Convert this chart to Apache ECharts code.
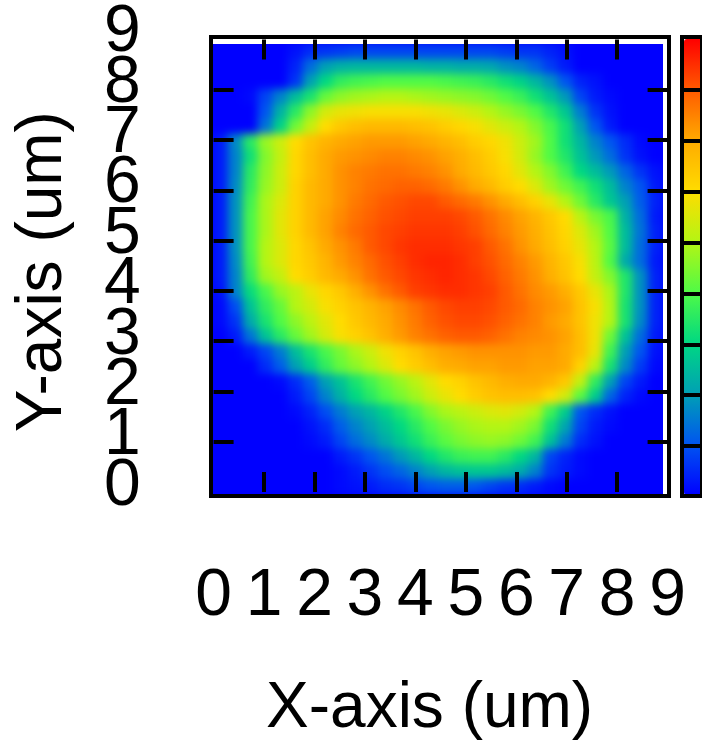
<!DOCTYPE html>
<html>
<head>
<meta charset="utf-8">
<title>Intensity map</title>
<script src="https://cdn.jsdelivr.net/npm/echarts@6/dist/echarts.min.js"></script>
<style>
  html, body { margin: 0; padding: 0; background: #fff; }
  #wrap { position: relative; width: 702px; height: 746px; }
  /* the map is shaded smoothly inside its plot box */
  #mapClip { position: absolute; left: 213px; top: 44px; width: 450px; height: 450px; overflow: hidden; }
  #map { position: absolute; left: -30px; top: -30px; width: 510px; height: 510px;
         background: #0000ff; filter: blur(4px); }
  #chart { position: absolute; left: 0; top: 0; width: 702px; height: 746px; }
</style>
</head>
<body>
<div id="wrap">
  <div id="mapClip"><div id="map"></div></div>
  <div id="chart"></div>
</div>
<script>
// Axis ticks and labels (um)
const xTickLabels = [0, 1, 2, 3, 4, 5, 6, 7, 8, 9];
const yLabelsEven = [0, 2, 4, 6, 8];
const yLabelsOdd = [1, 3, 5, 7, 9];
const innerTicks = [1, 2, 3, 4, 5, 6, 7, 8];

// Sample positions of the map cells (um)
const xCells = ['0.15','0.45','0.75','1.05','1.35','1.65','1.95','2.25','2.55','2.85',
                '3.15','3.45','3.75','4.05','4.35','4.65','4.95','5.25','5.55','5.85',
                '6.15','6.45','6.75','7.05','7.35','7.65','7.95','8.25','8.55','8.85'];
const yCells = xCells.slice();

// Intensity, one row per y position, top row (y = 8.85 um) first
const zRows = [
  [0,0,0,0,0,0.2,0.5,0.6,0.7,0.8,0.8,0.8,0.8,0.8,0.8,0.8,0.8,0.8,0.8,0.7,0.6,0.6,0.4,0.2,0,0,0,0,0,0],
  [0,0,0,0,0,0.4,1.3,2.0,2.3,2.4,2.4,2.4,2.4,2.4,2.3,2.3,2.2,2.2,2.1,1.8,1.6,1.2,0.7,0.3,0,0,0,0,0,0],
  [0,0,0,0,0,0.6,2.0,3.0,3.6,3.8,3.9,4.0,4.0,4.0,4.0,3.9,3.8,3.7,3.5,3.2,2.9,2.4,1.8,1.0,0.4,0.2,0,0,0,0],
  [0,0,0.1,0.8,1.6,2.5,3.3,4.2,4.6,4.8,4.9,5.0,5.0,4.9,4.8,4.7,4.6,4.5,4.3,4.0,3.7,3.2,2.6,1.9,0.8,0.3,0.1,0,0,0],
  [0,0,0,1.0,2.3,3.5,4.6,5.4,5.7,5.8,5.9,5.9,5.9,5.9,5.8,5.7,5.5,5.3,5.0,4.7,4.4,4.0,3.4,2.7,1.5,0.6,0.2,0,0,0],
  [0,0,0,1.4,2.9,4.3,5.2,6.0,6.4,6.6,6.7,6.7,6.7,6.6,6.5,6.3,6.1,5.9,5.6,5.3,5.0,4.5,3.9,3.2,2.0,1.0,0.3,0,0,0],
  [0.3,1.7,3.5,4.7,5.3,6.0,6.5,6.8,7.0,7.1,7.2,7.2,7.2,7.1,7.0,6.8,6.6,6.3,6.1,5.8,5.3,4.8,4.0,3.2,2.4,1.6,1.0,0.5,0.1,0],
  [0.3,1.6,3.2,4.5,5.2,6.1,6.6,7.0,7.2,7.3,7.4,7.5,7.5,7.4,7.3,7.1,6.9,6.6,6.3,5.9,5.4,4.7,4.0,3.4,2.6,1.9,1.3,0.6,0.2,0],
  [0.3,1.6,3.5,4.6,5.3,6.1,6.6,7.0,7.3,7.5,7.6,7.7,7.7,7.6,7.5,7.3,7.0,6.7,6.4,6.1,5.6,5.0,4.5,3.8,3.0,2.5,1.9,1.2,0.6,0.2],
  [0.3,1.7,3.6,4.7,5.3,6.2,6.7,7.0,7.3,7.5,7.7,7.8,7.9,7.9,7.8,7.6,7.3,7.0,6.7,6.3,6.0,5.5,4.8,4.3,3.8,3.2,2.5,1.6,1.0,0.3],
  [0.3,1.8,3.8,4.9,5.5,6.2,6.7,7.0,7.3,7.6,7.8,8.0,8.1,8.2,8.2,8.0,7.8,7.6,7.3,7.0,6.6,6.2,5.7,5.0,4.3,3.5,2.7,2.0,1.1,0.4],
  [0.3,1.8,3.9,4.9,5.6,6.2,6.7,7.1,7.4,7.7,7.9,8.1,8.2,8.3,8.3,8.3,8.2,8.0,7.7,7.4,7.1,6.8,6.4,6.0,5.1,4.4,3.9,2.3,1.3,0.3],
  [0.3,1.8,3.9,4.9,5.6,6.2,6.7,7.1,7.5,7.8,8.0,8.2,8.3,8.4,8.4,8.4,8.3,8.1,7.8,7.5,7.2,6.9,6.5,6.1,5.5,4.8,4.0,2.5,1.4,0.4],
  [0.3,1.8,3.9,5.0,5.5,6.1,6.5,7.0,7.3,7.6,8.0,8.2,8.4,8.5,8.5,8.5,8.4,8.3,8.0,7.7,7.3,7.0,6.6,6.2,5.7,5.0,4.1,2.5,1.3,0.4],
  [0.3,1.7,3.8,5.0,5.5,6.1,6.4,6.8,7.2,7.5,7.8,8.1,8.3,8.5,8.6,8.6,8.5,8.3,8.1,7.8,7.5,7.2,6.8,6.4,5.9,5.1,4.0,2.2,1.3,0.3],
  [0.3,1.6,3.6,4.8,5.2,6.0,6.3,6.7,7.0,7.3,7.7,8.0,8.2,8.4,8.5,8.6,8.5,8.4,8.2,7.9,7.6,7.3,6.9,6.5,6.0,5.2,4.5,3.4,1.8,0.4],
  [0.2,1.6,3.1,3.9,4.7,5.1,5.7,6.1,6.4,6.9,7.3,7.7,8.0,8.3,8.4,8.5,8.5,8.4,8.3,8.0,7.7,7.4,7.2,6.9,6.4,5.7,4.9,3.4,1.8,0.4],
  [0.1,0.9,2.6,3.6,4.2,5.0,5.4,5.9,6.2,6.5,6.8,7.1,7.4,7.7,8.0,8.2,8.3,8.3,8.2,8.0,7.8,7.5,7.3,7.1,6.5,5.9,5.0,3.3,1.8,0.4],
  [0.1,0.6,2.2,3.3,4.0,4.6,5.1,5.6,6.0,6.4,6.7,7.0,7.3,7.6,7.9,8.1,8.2,8.2,8.1,7.9,7.7,7.5,7.2,7.0,6.5,5.8,5.0,3.3,1.7,0.4],
  [0,0.3,1.4,2.6,3.5,4.2,4.8,5.4,5.9,6.2,6.5,6.9,7.2,7.5,7.7,7.9,8.0,8.0,7.9,7.7,7.5,7.4,7.3,7.1,6.6,5.8,4.3,2.6,1.3,0.3],
  [0,0,0.3,0.8,1.5,2.5,3.3,3.9,4.4,4.9,5.3,5.8,6.2,6.5,6.9,7.1,7.2,7.3,7.3,7.3,7.3,7.2,7.2,7.0,6.6,5.7,3.8,2.0,1.0,0.2],
  [0,0,0,0.5,1.1,2.0,2.8,3.6,4.2,4.6,5.0,5.5,6.0,6.3,6.6,6.9,7.0,7.1,7.1,7.2,7.2,7.1,7.1,7.0,6.2,5.1,3.3,1.7,0.7,0.1],
  [0,0,0,0,0.1,0.5,1.1,2.0,2.6,3.3,3.8,4.3,4.7,5.1,5.6,6.0,6.2,6.5,6.7,6.9,7.0,7.0,6.8,6.4,5.2,3.6,2.0,0.8,0.3,0],
  [0,0,0,0,0,0.3,0.8,1.6,2.3,3.0,3.5,4.0,4.4,4.8,5.3,5.7,6.0,6.3,6.5,6.6,6.6,6.5,6.0,5.4,4.1,2.8,1.2,0.4,0.1,0],
  [0,0,0,0,0,0.1,0.4,0.9,1.5,2.0,2.4,2.9,3.4,3.9,4.5,4.9,5.1,5.3,5.5,5.6,5.4,5.0,3.8,2.8,1.0,0.5,0.2,0,0,0],
  [0,0,0,0,0,0,0.2,0.5,1.1,1.6,2.0,2.5,3.0,3.5,4.0,4.4,4.7,4.9,5.0,5.0,4.8,4.4,3.2,2.1,0.8,0.3,0.1,0,0,0],
  [0,0,0,0,0,0,0.1,0.3,0.8,1.3,1.7,2.2,2.7,3.2,3.7,4.1,4.4,4.6,4.7,4.6,4.3,3.8,2.6,1.5,0.5,0.2,0,0,0,0],
  [0,0,0,0,0,0,0,0,0.3,0.6,1.0,1.4,1.9,2.4,3.0,3.4,3.7,3.8,3.8,3.5,3.0,2.4,0.8,0.4,0.1,0,0,0,0,0],
  [0,0,0,0,0,0,0,0,0.1,0.3,0.6,0.9,1.2,1.6,2.0,2.4,2.6,2.7,2.7,2.5,2.2,1.6,0.6,0.3,0.1,0,0,0,0,0],
  [0,0,0,0,0,0,0,0,0.1,0.2,0.3,0.5,0.6,0.8,1.0,1.1,1.1,1.0,0.8,0.6,0.5,0.3,0.1,0,0,0,0,0,0,0]
];

// Colour scale stops, low to high
const scaleMin = 0;
const scaleMax = 9;
const scaleColors = ['#0000ff', '#0055f0', '#00a0b4', '#00d882', '#50fa46',
                     '#b4f514', '#ffdc00', '#ffaa00', '#ff5a00', '#ff0000'];

const cells = [];
zRows.forEach((row, r) => {
  row.forEach((v, c) => {
    cells.push([c, zRows.length - 1 - r, v]);
  });
});

const FONT = 'Liberation Sans, Arial, sans-serif';
const BLACK = '#000';

function innerTick(len) {
  return { inside: true, length: len, lineStyle: { color: BLACK, width: 4 }, customValues: innerTicks };
}
function bareLine() {
  return { show: false, onZero: false };
}
// left-hand tick labels, set slightly above their ticks
function yLabelAxis(values) {
  return {
    gridIndex: 4, type: 'value', min: 0, max: 9, interval: 1, position: 'left', z: 20,
    axisLine: bareLine(), splitLine: { show: false }, axisTick: { show: false },
    axisLabel: { customValues: values, showMinLabel: true, showMaxLabel: true,
                 margin: 73, color: BLACK, fontSize: 66, fontFamily: FONT }
  };
}

// Map layer: the intensity cells on hidden category axes
const mapChart = echarts.init(document.getElementById('map'), null, { renderer: 'canvas' });
mapChart.setOption({
  animation: false,
  backgroundColor: '#0000ff',
  grid: { left: 30, top: 30, width: 450, height: 450, show: false },
  xAxis: { type: 'category', data: xCells, show: false },
  yAxis: { type: 'category', data: yCells, show: false },
  visualMap: {
    type: 'continuous', show: false, min: scaleMin, max: scaleMax, dimension: 2,
    inRange: { color: scaleColors }
  },
  series: [{
    type: 'heatmap',
    data: cells,
    itemStyle: { borderWidth: 0 },
    emphasis: { disabled: true },
    progressive: 0
  }]
});

// Frame, axes, titles and colour bar
const chart = echarts.init(document.getElementById('chart'), null, { renderer: 'canvas' });
chart.setOption({
  backgroundColor: 'transparent',
  animation: false,
  grid: [
    // 0: plot axes
    { left: 213.6, top: 39.4, width: 454, height: 455.2, show: false },
    // 1: plot frame
    { left: 211, top: 37, width: 458, height: 459, show: true, borderColor: BLACK, borderWidth: 4,
      backgroundColor: 'rgba(0,0,0,0)', z: 20 },
    // 2: colour bar frame
    { left: 682, top: 37, width: 80, height: 459, show: true, borderColor: BLACK, borderWidth: 4,
      backgroundColor: 'rgba(0,0,0,0)', z: 20 },
    // 3: colour bar ticks
    { left: 684, top: 39, width: 60, height: 458, show: false },
    // 4: left tick labels
    { left: 213.6, top: 31.4, width: 454, height: 455.2, show: false }
  ],
  xAxis: [
    {
      gridIndex: 0, type: 'value', min: 0, max: 9, interval: 1, position: 'bottom', z: 20,
      axisLine: bareLine(), splitLine: { show: false },
      axisTick: innerTick(20),
      axisLabel: { customValues: xTickLabels, showMinLabel: true, showMaxLabel: true,
                   margin: 72, color: BLACK, fontSize: 66, fontFamily: FONT },
      name: 'X-axis (um)', nameLocation: 'middle', nameGap: 185,
      nameTextStyle: { color: BLACK, fontSize: 64, fontFamily: FONT, padding: [0, 22, 0, 0] }
    },
    {
      gridIndex: 0, type: 'value', min: 0, max: 9, interval: 1, position: 'top', z: 20,
      axisLine: bareLine(), splitLine: { show: false },
      axisTick: innerTick(20), axisLabel: { show: false }
    },
    { gridIndex: 1, type: 'value', show: false },
    { gridIndex: 2, type: 'value', show: false },
    { gridIndex: 3, type: 'value', show: false },
    { gridIndex: 4, type: 'value', show: false }
  ],
  yAxis: [
    {
      gridIndex: 0, type: 'value', min: 0, max: 9, interval: 1, position: 'left', z: 20,
      axisLine: bareLine(), splitLine: { show: false },
      axisTick: innerTick(20), axisLabel: { show: false },
      name: 'Y-axis (um)', nameLocation: 'middle', nameGap: 138,
      nameTextStyle: { color: BLACK, fontSize: 64, fontFamily: FONT, padding: [8, 12, 0, 0] }
    },
    {
      gridIndex: 0, type: 'value', min: 0, max: 9, interval: 1, position: 'right', z: 20,
      axisLine: bareLine(), splitLine: { show: false },
      axisTick: innerTick(20), axisLabel: { show: false }
    },
    { gridIndex: 1, type: 'value', show: false },
    { gridIndex: 2, type: 'value', show: false },
    {
      gridIndex: 3, type: 'value', min: scaleMin, max: scaleMax, interval: 1, position: 'left', z: 20,
      axisLine: bareLine(), splitLine: { show: false },
      axisTick: innerTick(40), axisLabel: { show: false }
    },
    yLabelAxis(yLabelsEven),
    yLabelAxis(yLabelsOdd)
  ],
  visualMap: {
    type: 'continuous',
    min: scaleMin, max: scaleMax,
    calculable: false, hoverLink: false, realtime: false,
    orient: 'vertical',
    left: 684, top: 39, padding: 0,
    itemWidth: 40, itemHeight: 456,
    inRange: { color: scaleColors },
    textStyle: { color: 'rgba(0,0,0,0)' }
  },
  series: []
});
</script>
</body>
</html>
